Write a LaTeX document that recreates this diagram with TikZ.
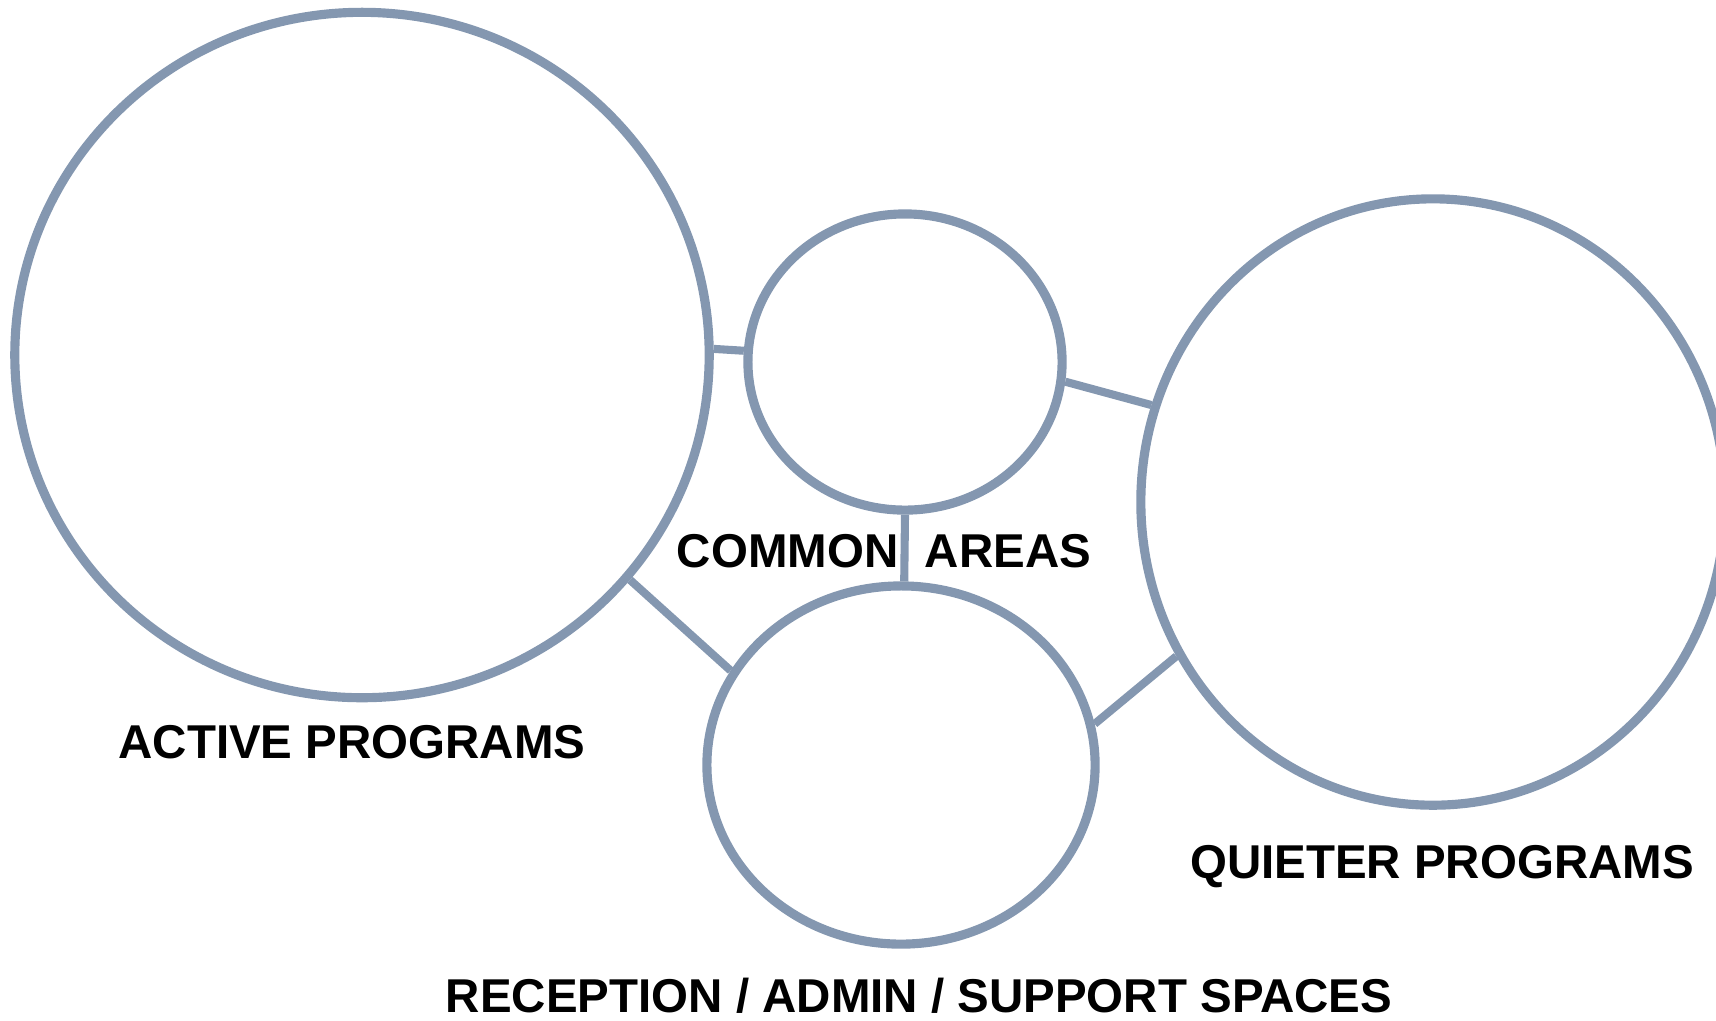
\documentclass[tikz,border=0pt]{standalone}
\usepackage{fontspec}
\setmainfont{Liberation Sans}
\usepackage{tikz}
\usetikzlibrary{positioning,shapes}

\definecolor{bubble}{RGB}{132,151,176}

\begin{document}
\begin{tikzpicture}[x=0.01cm,y=-0.01cm,
    zone/.style={ellipse,draw=bubble,line width=2.6pt,inner sep=0pt},
    link/.style={draw=bubble,line width=2.3pt},
    tag/.style={font=\fontsize{13.5}{16}\selectfont\bfseries,inner sep=0pt}]

\useasboundingbox (0,0) rectangle (1716,1020);

\node[zone,minimum width=6.94cm,minimum height=6.85cm] (active) at (362,355) {};
\node[zone,minimum width=3.14cm,minimum height=2.96cm] (common) at (905,362) {};
\node[zone,minimum width=5.84cm,minimum height=6.06cm] (quiet) at (1433,502) {};
\node[zone,minimum width=3.88cm,minimum height=3.58cm] (support) at (901,765) {};

\draw[link] (active.1) -- (common.176);
\draw[link] (common.-7) -- (quiet.161);
\draw[link] (common.south) -- (support.89);
\draw[link] (active.-40) -- (support.151);
\draw[link] (support.12) -- (quiet.211);

\node[tag] (activelbl) at (352,742) {ACTIVE PROGRAMS};
\node[tag] (commonlbl) at (884,551) {COMMON\ \ AREAS};
\node[tag] (quietlbl) at (1442,867) {QUIETER PROGRAMS};
\node[tag] (supportlbl) at (919,996) {RECEPTION / ADMIN / SUPPORT SPACES};
\end{tikzpicture}
\end{document}
